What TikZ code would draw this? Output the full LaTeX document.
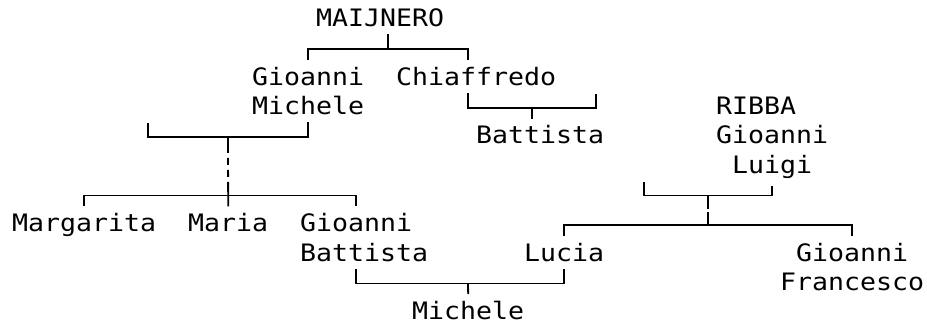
\documentclass[tikz,border=0pt]{standalone}
\usepackage{fontspec}
\usepackage{tikz}
\newfontfamily\treefont[FakeStretch=1.107]{DejaVu Sans Mono}

\begin{document}
\begin{tikzpicture}[x=1pt,y=-1pt,
  person/.style={anchor=base west, inner xsep=0pt, inner ysep=7pt, align=left,
    font={\fontsize{24}{29.3}\treefont}},
  link/.style={line width=1.8pt}]
\useasboundingbox (0,0) rectangle (927,328);
% people (base = last line)
\node[person] (maij)  at (316,26.8)  {MAIJNERO};
\node[person] (gm)    at (252,114.7) {Gioanni\\Michele};
\node[person] (ch)    at (396,85.4)  {Chiaffredo};
\node[person] (bat)   at (476,144.0) {Battista};
\node[person] (ribba) at (716,173.3) {RIBBA\\Gioanni\\\hphantom{G}Luigi};
\node[person] (marg)  at (12,231.9)  {Margarita};
\node[person] (maria) at (188,231.9) {Maria};
\node[person] (gb)    at (300,261.2) {Gioanni\\Battista};
\node[person] (lucia) at (524,261.2) {Lucia};
\node[person, align=center] (gf) at (780,290.5) {Gioanni\\Francesco};
\node[person] (mich)  at (412,319.8) {Michele};
% junctions
\coordinate (m1) at (388,49.1);
\coordinate (chx) at (468,0);
\coordinate (c1) at (532,107.7);
\coordinate (c2) at (596,93.7);
\coordinate (g1) at (228,137.0);
\coordinate (g2) at (148,123.0);
\coordinate (g3) at (228,195.6);
\coordinate (gbx) at (356,0);
\coordinate (r1) at (708,195.6);
\coordinate (r2) at (644,181.6);
\coordinate (r3) at (708,224.9);
\coordinate (b1) at (468,283.5);
% MAIJNERO
\draw[link] (maij.south -| m1) -- (m1);
\draw[link] (gm.north) |- (m1) -| (ch.north -| chx);
% Chiaffredo
\draw[link] (ch.south -| chx) |- (c1) -| (c2);
\draw[link] (c1) -- (bat.north -| c1);
% Gioanni Michele
\draw[link] (gm.south) |- (g1) -| (g2);
\draw[link, dash pattern=on 16pt off 5pt on 7pt off 5pt on 7pt off 5pt on 100pt] (g1) -- (maria.north);
\draw[link] (marg.north) |- (g3) -| (gb.north -| gbx);
% RIBBA
\draw[link] (ribba.south) |- (r1) -| (r2);
\draw[link, dash pattern=on 13.5pt off 3pt on 20pt] (r1) -- (r3);
\draw[link] (lucia.north) |- (r3) -| (gf.north);
% Gioanni Battista + Lucia
\draw[link] (gb.south -| gbx) |- (b1) -| (lucia.south);
\draw[link] (b1) -- (mich.north);
\end{tikzpicture}
\end{document}
